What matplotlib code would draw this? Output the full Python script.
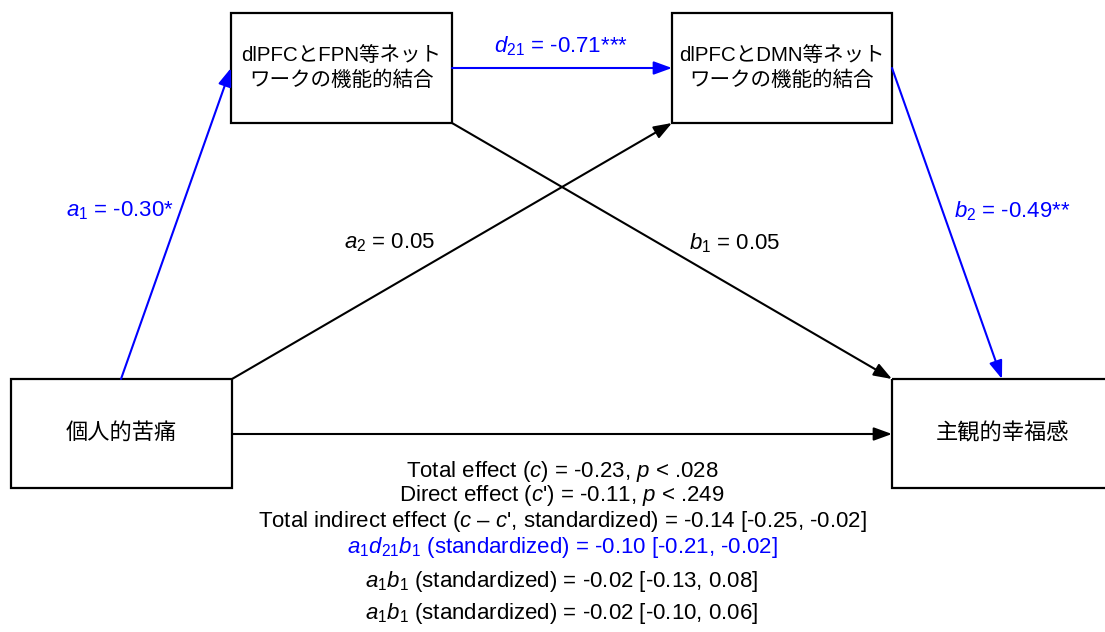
import matplotlib.pyplot as plt
from matplotlib.patches import Rectangle

plt.rcParams['font.family'] = ['Liberation Sans', 'Noto Sans CJK JP']
plt.rcParams['mathtext.fontset'] = 'custom'
plt.rcParams['mathtext.rm'] = 'Liberation Sans'
plt.rcParams['mathtext.it'] = 'Liberation Sans:italic'

BLUE = '#0000ff'

# node labels
nodes = ['dlPFCとFPN等ネット\nワークの機能的結合',
         'dlPFCとDMN等ネット\nワークの機能的結合',
         '個人的苦痛',
         '主観的幸福感']
node_sizes = [14.8, 14.8, 16, 16]

# path coefficient labels
paths = [r'$a_1$ = -0.30*', r'$d_{21}$ = -0.71***', r'$b_2$ = -0.49**',
         r'$a_2$ = 0.05', r'$b_1$ = 0.05']
path_colors = [BLUE, BLUE, BLUE, 'black', 'black']

# effect summary lines
effects = [r'Total effect ($c$) = -0.23, $p$ < .028',
           r"Direct effect ($c$') = -0.11, $p$ < .249",
           r"Total indirect effect ($c$ – $c$', standardized) = -0.14 [-0.25, -0.02]",
           r'$a_1d_{21}b_1$ (standardized) = -0.10 [-0.21, -0.02]',
           r'$a_1b_1$ (standardized) = -0.02 [-0.13, 0.08]',
           r'$a_1b_1$ (standardized) = -0.02 [-0.10, 0.06]']
effect_colors = ['black', 'black', 'black', BLUE, 'black', 'black']

fig = plt.figure(figsize=(11.05, 6.32), dpi=100)
ax = fig.add_axes([0, 0, 1, 1])
ax.set_xlim(0, 1105)
ax.set_ylim(632, 0)
ax.axis('off')

# boxes: x0, y0, w, h
boxes = [(231, 13, 221, 110), (672, 13, 220, 110), (11, 379, 221, 109), (892, 379, 221, 109)]
for (x, y, w, h), lab, fs in zip(boxes, nodes, node_sizes):
    ax.add_patch(Rectangle((x, y), w, h, fill=False, ec='black', lw=1.6, clip_on=True))
    ax.text(x + w / 2, y + h / 2, lab, ha='center', va='center', fontsize=fs,
            linespacing=1.3)

def arrow(p0, p1, color):
    ax.annotate('', xy=p1, xytext=p0,
                arrowprops=dict(arrowstyle='-|>,head_length=1.1,head_width=0.4',
                                color=color, lw=1.5, shrinkA=0, shrinkB=0))

arrow((121, 379), (231, 68), BLUE)
arrow((452, 68), (672, 68), BLUE)
arrow((892, 68), (1002, 379), BLUE)
arrow((232, 379), (672, 123), 'black')
arrow((452, 123), (892, 379), 'black')
arrow((232, 434), (892, 434), 'black')

path_pos = [(120, 211), (561, 46), (1012, 211), (390, 243), (735, 243)]
for (x, y), lab, c in zip(path_pos, paths, path_colors):
    ax.text(x, y, lab, ha='center', va='center', fontsize=16, color=c)

effect_y = [471, 496, 522, 548, 581, 613]
for y, lab, c in zip(effect_y, effects, effect_colors):
    ax.text(562, y, lab, ha='center', va='center', fontsize=16, color=c)

fig.savefig('out.png', dpi=100, facecolor='white')
